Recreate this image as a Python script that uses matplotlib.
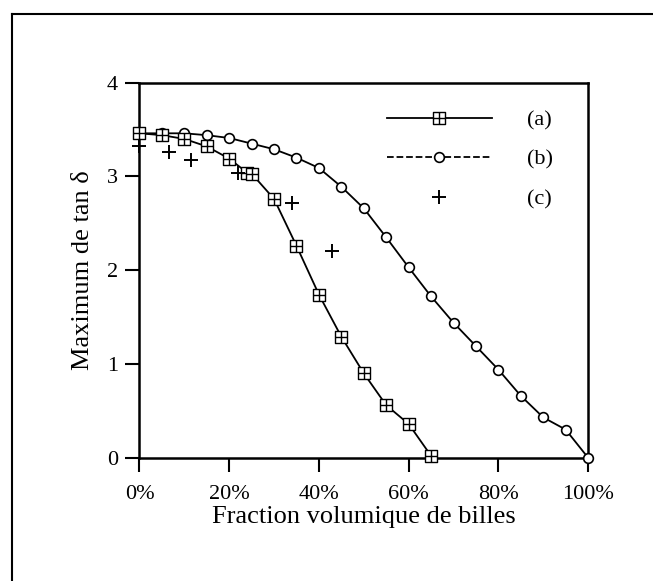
import numpy as np
import matplotlib.pyplot as plt
from matplotlib.lines import Line2D
from matplotlib.path import Path

plt.rcParams['font.family'] = ['Liberation Serif', 'DejaVu Serif']

# (a) squares, solid line
frac_a = [0, 5, 10, 15, 20, 24, 25, 30, 35, 40, 45, 50, 55, 60, 65]
tan_a = [3.46, 3.44, 3.40, 3.32, 3.19, 3.04, 3.03, 2.76, 2.26, 1.74, 1.29, 0.90, 0.56, 0.36, 0.02]
# (b) circles
frac_b = [0, 5, 10, 15, 20, 25, 30, 35, 40, 45, 50, 55, 60, 65, 70, 75, 80, 85, 90, 95, 100]
tan_b = [3.46, 3.46, 3.46, 3.44, 3.41, 3.35, 3.29, 3.20, 3.09, 2.89, 2.66, 2.35, 2.03, 1.72, 1.44, 1.19, 0.94, 0.66, 0.43, 0.30, 0.0]
# (c) crosses
frac_c = [0, 6.5, 11.5, 22, 34, 43]
tan_c = [3.32, 3.26, 3.18, 3.04, 2.72, 2.20]

xticks = [0, 20, 40, 60, 80, 100]
xticklabels = ['0%', '20%', '40%', '60%', '80%', '100%']

# square with a cross inside (boxed plus)
box_plus = Path(
    [(-1, -1), (1, -1), (1, 1), (-1, 1), (-1, -1),
     (0, -1), (0, 1), (-1, 0), (1, 0)],
    [Path.MOVETO, Path.LINETO, Path.LINETO, Path.LINETO, Path.CLOSEPOLY,
     Path.MOVETO, Path.LINETO, Path.MOVETO, Path.LINETO])

fig = plt.figure(figsize=(6.53, 5.81), dpi=100)
ax = fig.add_axes([0.2136, 0.2122, 0.687, 0.6455])

ax.plot(frac_b, tan_b, '-', color='black', lw=1.3, marker='o', ms=7,
        mfc='white', mec='black', mew=1.2, zorder=3, clip_on=False)
ax.plot(frac_a, tan_a, '-', color='black', lw=1.3, marker=box_plus, ms=8,
        mfc='white', mec='black', mew=1.0, zorder=4, clip_on=False)
ax.plot(frac_c, tan_c, ls='none', marker='+', ms=10, mec='black', mew=1.4,
        zorder=5, clip_on=False)

ax.set_xlim(0, 100)
ax.set_ylim(0, 4)
ax.set_xticks(xticks)
ax.set_xticklabels(xticklabels)
ax.set_yticks([0, 1, 2, 3, 4])
ax.tick_params(direction='out', length=10, width=1.5, labelsize=16)
ax.tick_params(axis='x', pad=10)
ax.tick_params(axis='y', pad=5.5)
for s in ax.spines.values():
    s.set_linewidth(1.8)
ax.set_xlabel('Fraction volumique de billes', fontsize=19, labelpad=1)
ax.set_ylabel('Maximum de tan δ', fontsize=19, labelpad=9)

h_a = Line2D([], [], color='black', lw=1.3, marker=box_plus, ms=8, mfc='white', mew=1.0)
h_b = Line2D([], [], color='black', lw=1.3, ls='--', marker='o', ms=7, mfc='white', mew=1.2)
h_c = Line2D([], [], ls='none', color='black', marker='+', ms=10, mew=1.4)
ax.legend([h_a, h_b, h_c], ['(a)', '(b)', '(c)'], loc='upper left',
          bbox_to_anchor=(0.5275, 0.957), borderpad=0, frameon=False, fontsize=16,
          handlelength=4.7, handletextpad=1.6, labelspacing=0.85)

# outer frame (left and top)
fig.add_artist(Line2D([12/653, 12/653], [0, 1 - 14/581], color='black', lw=1.5,
                      transform=fig.transFigure))
fig.add_artist(Line2D([12/653, 1], [1 - 14/581, 1 - 14/581], color='black', lw=1.5,
                      transform=fig.transFigure))

fig.savefig('out.png', dpi=100)
